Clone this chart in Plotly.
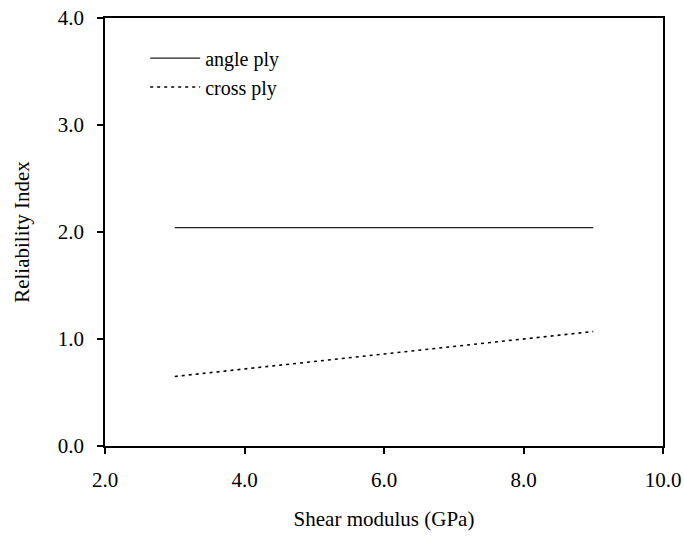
import plotly.graph_objects as go

# Shear modulus (GPa) sampled for each laminate layup
shear_modulus = [3.0, 4.0, 5.0, 6.0, 7.0, 8.0, 9.0]
angle_ply = [2.04, 2.04, 2.04, 2.04, 2.04, 2.04, 2.04]
cross_ply = [0.65, 0.72, 0.79, 0.86, 0.93, 1.00, 1.07]

x_ticks = [2.0, 4.0, 6.0, 8.0, 10.0]
y_ticks = [0.0, 1.0, 2.0, 3.0, 4.0]

FONT = "Liberation Serif, Times New Roman, serif"
FS = 21

fig = go.Figure()
fig.add_trace(go.Scatter(
    x=shear_modulus, y=angle_ply, mode="lines", name="angle ply",
    line=dict(color="#222222", width=1.2),
))
fig.add_trace(go.Scatter(
    x=shear_modulus, y=cross_ply, mode="lines", name="cross ply",
    line=dict(color="#000000", width=1.6, dash="3px,4px"),
))

axis_common = dict(
    showline=True, linecolor="black", linewidth=1.5, mirror=True,
    ticks="outside", ticklen=6, tickwidth=1.5, tickcolor="black",
    showgrid=False, zeroline=False, tickformat=".1f", automargin=False,
    tickfont=dict(family=FONT, size=FS, color="black"),
)

fig.update_layout(
    width=684, height=536,
    margin=dict(l=105, r=21, t=18, b=90),
    paper_bgcolor="white", plot_bgcolor="white",
    font=dict(family=FONT, size=FS, color="black"),
    xaxis=dict(range=[2.0, 10.0], tickvals=x_ticks, ticklabelstandoff=8,
               title=dict(text="Shear modulus (GPa)", standoff=20,
                          font=dict(family=FONT, size=FS)),
               **axis_common),
    yaxis=dict(range=[0.0, 4.0], tickvals=y_ticks, ticklabelstandoff=9,
               title=dict(text="Reliability Index", standoff=22,
                          font=dict(family=FONT, size=FS)),
               **axis_common),
    legend=dict(x=0.072, y=0.952, xanchor="left", yanchor="top",
                bgcolor="rgba(0,0,0,0)", font=dict(family=FONT, size=20),
                tracegroupgap=0, itemwidth=50),
    showlegend=True,
)

fig.write_html("out.html")
